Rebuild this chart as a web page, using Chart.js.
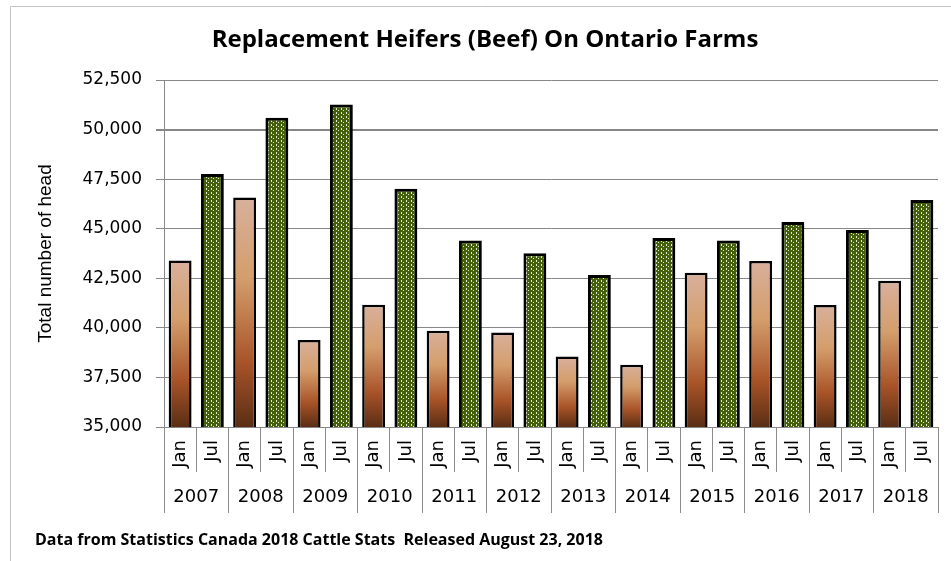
<!DOCTYPE html>
<html>
<head>
<meta charset="utf-8">
<script src="https://cdn.jsdelivr.net/npm/chart.js@4/dist/chart.umd.min.js"></script>
<style>
  body { margin: 0; background: #fff; }
</style>
</head>
<body>
<canvas id="myChart" width="951" height="561"></canvas>
<script>
let years = ['2007', '2008', '2009', '2010', '2011', '2012', '2013', '2014', '2015', '2016', '2017', '2018'];
let months = ['Jan', 'Jul'];
let janHead = [43400, 46580, 39390, 41170, 39860, 39760, 38550, 38140, 42780, 43370, 41150, 42380];
let julHead = [47760, 50600, 51270, 47020, 44400, 43760, 42670, 44530, 44400, 45340, 44940, 46450];
let yTicks = [35000, 37500, 40000, 42500, 45000, 47500, 50000, 52500];

// one bar per month, Jan then Jul for each year
let labels = [];
let values = [];
for (let i = 0; i < years.length; i++) {
  labels.push(months[0]);
  values.push(janHead[i]);
  labels.push(months[1]);
  values.push(julHead[i]);
}

function makePattern(ctx) {
  let c = document.createElement('canvas');
  c.width = 5;
  c.height = 4;
  let p = c.getContext('2d');
  p.fillStyle = '#44600b';
  p.fillRect(0, 0, 5, 4);
  p.fillStyle = '#e4e9d2';
  p.fillRect(1, 0, 1, 2);
  p.fillRect(3, 2, 1, 1);
  return ctx.createPattern(c, 'repeat');
}

let pattern = null;

function barFill(context) {
  let chart = context.chart;
  if (context.dataIndex % 2 === 1) {
    if (!pattern) pattern = makePattern(chart.ctx);
    return pattern;
  }
  let y = chart.scales.y;
  if (!chart.chartArea || !y) return '#c88a5a';
  let top = y.getPixelForValue(context.raw);
  let bottom = y.getPixelForValue(y.min);
  let g = chart.ctx.createLinearGradient(0, top, 0, bottom);
  g.addColorStop(0, '#d8b09c');
  g.addColorStop(0.35, '#d49e6c');
  g.addColorStop(0.72, '#a85328');
  g.addColorStop(1, '#5a2e14');
  return g;
}

let frame = {
  id: 'frame',
  beforeDraw(chart) {
    let ctx = chart.ctx;
    ctx.save();
    ctx.fillStyle = '#fff';
    ctx.fillRect(0, 0, chart.width, chart.height);
    ctx.strokeStyle = '#c4c4c4';
    ctx.lineWidth = 1;
    ctx.beginPath();
    ctx.moveTo(10.5, chart.height);
    ctx.lineTo(10.5, 6.5);
    ctx.lineTo(chart.width, 6.5);
    ctx.stroke();
    ctx.restore();
  },
  afterDraw(chart) {
    let ctx = chart.ctx;
    ctx.save();
    ctx.fillStyle = '#000';
    ctx.textBaseline = 'middle';
    ctx.textAlign = 'center';
    ctx.font = 'bold 24px "Open Sans"';
    ctx.fillText('Replacement Heifers (Beef) On Ontario Farms', 485, 40);
    ctx.textAlign = 'left';
    ctx.font = 'bold 16px "Open Sans"';
    ctx.fillText('Data from Statistics Canada 2018 Cattle Stats  Released August 23, 2018', 35, 540);
    ctx.restore();
  }
};

let ctx = document.getElementById('myChart').getContext('2d');
let chart = new Chart(ctx, {
  type: 'bar',
  data: {
    labels: labels,
    datasets: [{
      label: 'Replacement heifers',
      data: values,
      backgroundColor: barFill,
      borderColor: '#000',
      borderWidth: (c) => c.dataIndex % 2 === 1 ? 3 : 2.5,
      borderSkipped: false,
      barPercentage: 0.71,
      categoryPercentage: 1.0
    }]
  },
  options: {
    responsive: false,
    animation: false,
    layout: { padding: { left: 0, right: 13, top: 80, bottom: 48 } },
    plugins: {
      legend: { display: false },
      tooltip: { enabled: false },
      title: { display: false }
    },
    scales: {
      y: {
        min: 35000,
        max: 52500,
        afterBuildTicks: (scale) => { scale.ticks = yTicks.map(v => ({ value: v })); },
        afterFit: (scale) => { scale.width = 164; },
        ticks: {
          color: '#000',
          padding: 14,
          font: { family: '"DejaVu Sans"', size: 17 },
          callback: (v) => Number(v).toLocaleString('en-US')
        },
        grid: {
          color: '#878787',
          lineWidth: (c) => c.tick && c.tick.value === 50000 ? 2 : 1,
          tickLength: 8
        },
        border: { color: '#878787' },
        title: {
          display: true,
          text: 'Total number of head',
          color: '#000',
          font: { family: '"Liberation Sans"', size: 19 },
          padding: { top: 34 }
        }
      },
      x: {
        weight: 0,
        afterFit: (scale) => { scale.height = 45; },
        ticks: {
          color: '#000',
          autoSkip: false,
          minRotation: 90,
          maxRotation: 90,
          padding: -32,
          font: { family: '"DejaVu Sans"', size: 18 }
        },
        grid: {
          offset: true,
          drawOnChartArea: false,
          tickLength: 45,
          color: '#8c8c8c'
        },
        border: { color: '#878787' }
      },
      x2: {
        type: 'category',
        position: 'bottom',
        weight: 1,
        labels: years,
        offset: true,
        afterFit: (scale) => { scale.height = 41; },
        ticks: {
          color: '#000',
          padding: -26,
          font: { family: '"DejaVu Sans"', size: 18 }
        },
        grid: {
          offset: true,
          drawOnChartArea: false,
          tickLength: 41,
          color: '#8c8c8c'
        },
        border: { display: false }
      }
    }
  },
  plugins: [frame]
});
</script>
</body>
</html>
